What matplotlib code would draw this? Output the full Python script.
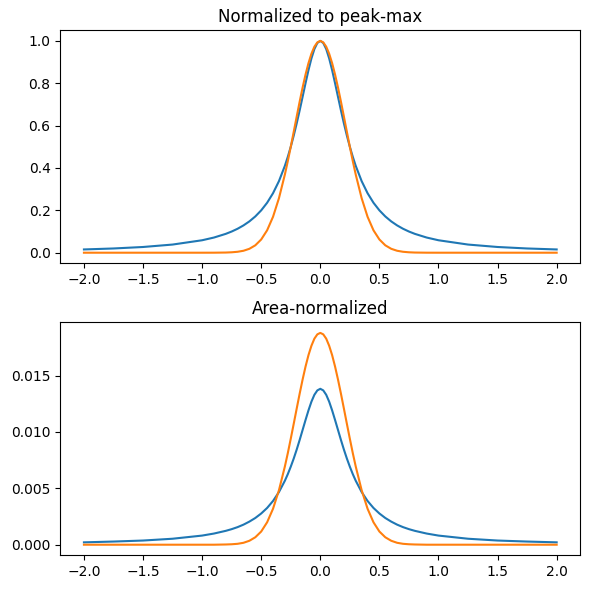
import matplotlib
matplotlib.use("Agg")
import matplotlib.pyplot as plt

x = [-2.0, -1.75, -1.5, -1.25, -1.0, -0.9, -0.8, -0.75, -0.7, -0.65, -0.6, -0.55, -0.5, -0.45,
     -0.4, -0.35, -0.3, -0.275, -0.25, -0.225, -0.2, -0.175, -0.15, -0.125, -0.1, -0.075,
     -0.05, -0.025,
     0.0,
     0.025, 0.05, 0.075, 0.1, 0.125, 0.15, 0.175, 0.2, 0.225, 0.25, 0.275, 0.3, 0.35, 0.4,
     0.45, 0.5, 0.55, 0.6, 0.65, 0.7, 0.75, 0.8, 0.9, 1.0, 1.25, 1.5, 1.75, 2.0]

lor_peak = [0.0154, 0.0200, 0.0270, 0.0385, 0.0588, 0.0716, 0.0890, 0.1000, 0.1131, 0.1289,
            0.1479, 0.1712, 0.2000, 0.2358, 0.2809, 0.3378, 0.4098, 0.4525, 0.5000, 0.5525,
            0.6098, 0.6711, 0.7353, 0.8000, 0.8621, 0.9174, 0.9615, 0.9901,
            1.0000,
            0.9901, 0.9615, 0.9174, 0.8621, 0.8000, 0.7353, 0.6711, 0.6098, 0.5525, 0.5000,
            0.4525, 0.4098, 0.3378, 0.2809, 0.2358, 0.2000, 0.1712, 0.1479, 0.1289, 0.1131,
            0.1000, 0.0890, 0.0716, 0.0588, 0.0385, 0.0270, 0.0200, 0.0154]

gau_peak = [0.0, 0.0, 0.0, 0.0, 0.0, 0.0001, 0.0008, 0.0020, 0.0044, 0.0092,
            0.0185, 0.0349, 0.0625, 0.1058, 0.1696, 0.2571, 0.3686, 0.4323, 0.5000, 0.5704,
            0.6417, 0.7121, 0.7792, 0.8409, 0.8950, 0.9395, 0.9727, 0.9931,
            1.0000,
            0.9931, 0.9727, 0.9395, 0.8950, 0.8409, 0.7792, 0.7121, 0.6417, 0.5704, 0.5000,
            0.4323, 0.3686, 0.2571, 0.1696, 0.1058, 0.0625, 0.0349, 0.0185, 0.0092, 0.0044,
            0.0020, 0.0008, 0.0001, 0.0, 0.0, 0.0, 0.0, 0.0]

lor_area = [0.00021, 0.00028, 0.00037, 0.00053, 0.00081, 0.00099, 0.00123, 0.00138, 0.00156,
            0.00178, 0.00205, 0.00237, 0.00277, 0.00326, 0.00388, 0.00467, 0.00567, 0.00626,
            0.00692, 0.00764, 0.00843, 0.00928, 0.01017, 0.01106, 0.01192, 0.01269, 0.01330,
            0.01369,
            0.01383,
            0.01369, 0.01330, 0.01269, 0.01192, 0.01106, 0.01017, 0.00928, 0.00843, 0.00764,
            0.00692, 0.00626, 0.00567, 0.00467, 0.00388, 0.00326, 0.00277, 0.00237, 0.00205,
            0.00178, 0.00156, 0.00138, 0.00123, 0.00099, 0.00081, 0.00053, 0.00037, 0.00028,
            0.00021]

gau_area = [0.0, 0.0, 0.0, 0.0, 0.0, 0.0, 0.00002, 0.00004, 0.00008, 0.00017, 0.00035,
            0.00066, 0.00117, 0.00199, 0.00319, 0.00483, 0.00693, 0.00812, 0.00940, 0.01072,
            0.01206, 0.01338, 0.01464, 0.01580, 0.01682, 0.01765, 0.01828, 0.01866,
            0.01879,
            0.01866, 0.01828, 0.01765, 0.01682, 0.01580, 0.01464, 0.01338, 0.01206, 0.01072,
            0.00940, 0.00812, 0.00693, 0.00483, 0.00319, 0.00199, 0.00117, 0.00066, 0.00035,
            0.00017, 0.00008, 0.00004, 0.00002, 0.0, 0.0, 0.0, 0.0, 0.0, 0.0]

titles = ["Normalized to peak-max", "Area-normalized"]

fig, axes = plt.subplots(2, 1, figsize=(5.9, 5.9), dpi=100)
fig.subplots_adjust(left=60.3 / 590, right=580.3 / 590,
                    top=1 - 30.3 / 590, bottom=1 - 555.3 / 590, hspace=0.2532)
axes[0].plot(x, lor_peak)
axes[0].plot(x, gau_peak)
axes[0].set_title(titles[0])
axes[1].plot(x, lor_area)
axes[1].plot(x, gau_area)
axes[1].set_title(titles[1])
fig.savefig("out.png")
